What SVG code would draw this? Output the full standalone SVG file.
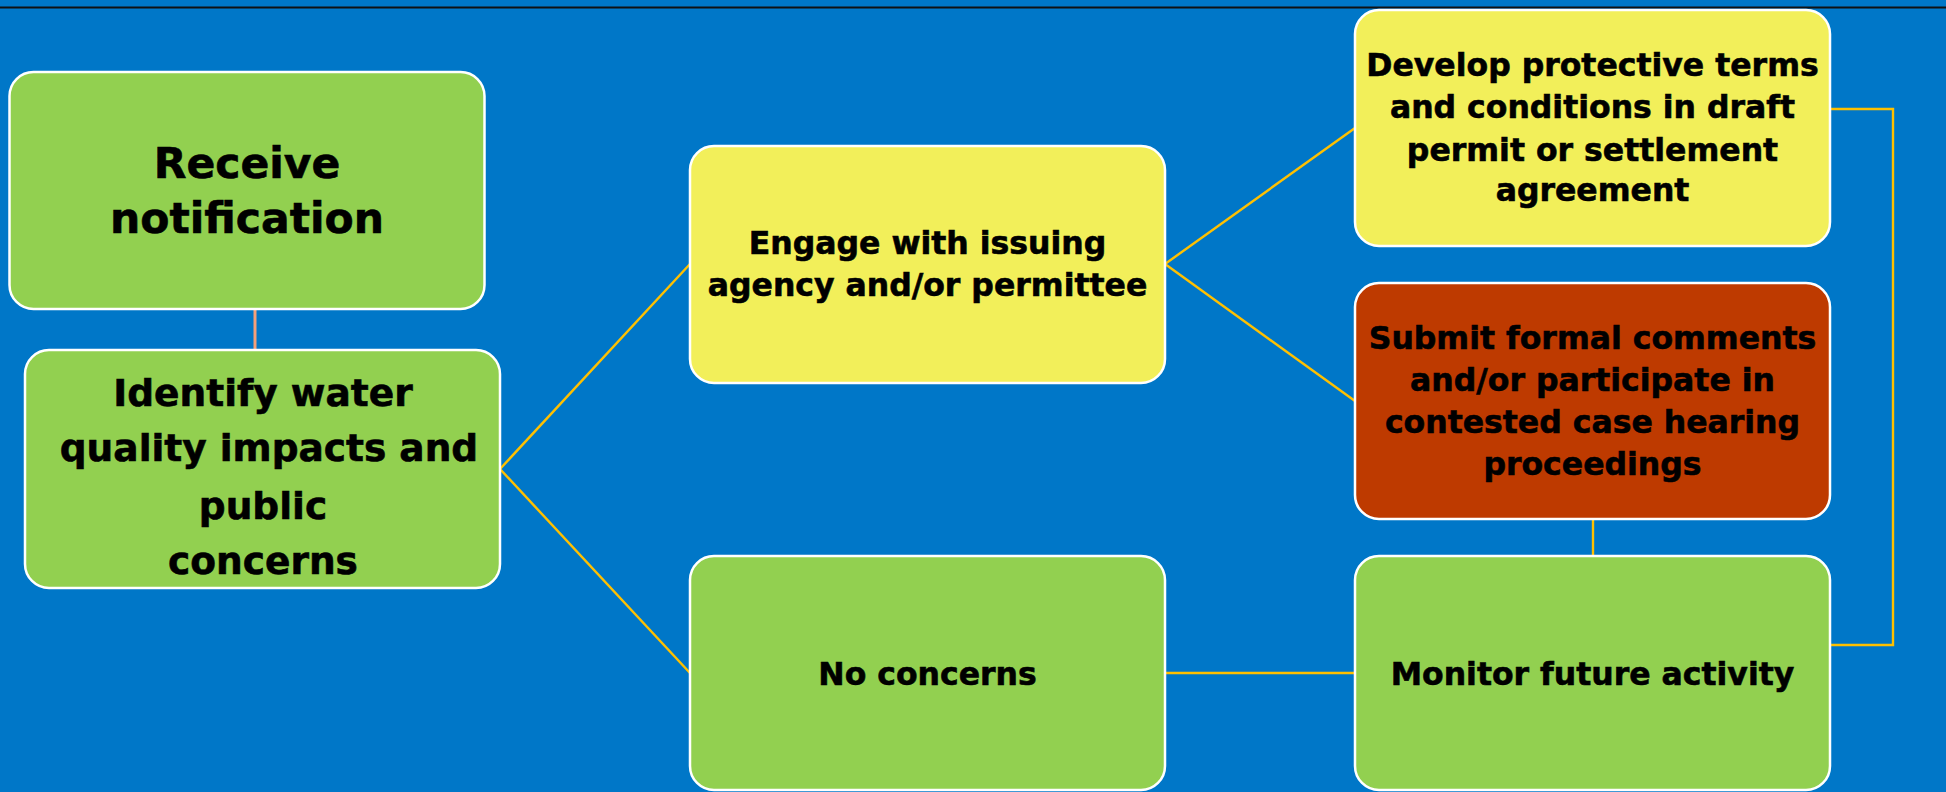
<svg xmlns="http://www.w3.org/2000/svg" width="1946" height="792" viewBox="0 0 1946 792">
<style>
.box{stroke:#ffffff;stroke-width:2.5}
.g{fill:#92D050}
.y{fill:#F2EF5A}
.r{fill:#BE3A00}
.t{font-family:"DejaVu Sans","Liberation Sans",sans-serif;font-weight:bold;fill:#000;stroke:#000;stroke-width:0.6;text-anchor:middle}
.s32{font-size:31.5px}
.s37{font-size:37.5px}
.s44{font-size:42.5px}
.c{fill:none;stroke:#FFC000;stroke-width:2.4}
</style>
<rect x="0" y="0" width="1946" height="792" fill="#0077C8"/>
<line x1="0" y1="7.5" x2="1946" y2="7.5" stroke="#111" stroke-width="1.8"/>
<g id="connectors">
<line x1="255" y1="309" x2="255" y2="350" stroke="#F4A07A" stroke-width="3"/>
<polyline class="c" points="690,264 500,469 690,673"/>
<polyline class="c" points="1355,128 1165,264 1355,401"/>
<line class="c" x1="1165" y1="673" x2="1355" y2="673"/>
<line class="c" x1="1593" y1="519" x2="1593" y2="556"/>
<polyline class="c" points="1830,109 1893,109 1893,645 1830,645"/>
</g>
<g id="receive">
<rect class="box g" x="9.5" y="72" width="475" height="237" rx="24"/>
<text class="t s44" x="247" y="178">Receive</text>
<text class="t s44" x="247" y="233">notification</text>
</g>
<g id="identify">
<rect class="box g" x="25" y="350" width="475" height="238" rx="24"/>
<text class="t s37" x="263" y="406">Identify water</text>
<text class="t s37" x="269" y="461">quality impacts and</text>
<text class="t s37" x="263" y="519">public</text>
<text class="t s37" x="263" y="574">concerns</text>
</g>
<g id="engage">
<rect class="box y" x="690" y="146" width="475" height="237" rx="24"/>
<text class="t s32" x="927.5" y="254">Engage with issuing</text>
<text class="t s32" x="927.5" y="296">agency and/or permittee</text>
</g>
<g id="noconcerns">
<rect class="box g" x="690" y="556" width="475" height="234" rx="24"/>
<text class="t s32" x="927.5" y="685">No concerns</text>
</g>
<g id="develop">
<rect class="box y" x="1355" y="10" width="475" height="236" rx="24"/>
<text class="t s32" x="1592.5" y="76">Develop protective terms</text>
<text class="t s32" x="1592.5" y="118">and conditions in draft</text>
<text class="t s32" x="1592.5" y="161">permit or settlement</text>
<text class="t s32" x="1592.5" y="201">agreement</text>
</g>
<g id="submit">
<rect class="box r" x="1355" y="283" width="475" height="236" rx="24"/>
<text class="t s32" x="1592.5" y="349">Submit formal comments</text>
<text class="t s32" x="1592.5" y="391">and/or participate in</text>
<text class="t s32" x="1592.5" y="433">contested case hearing</text>
<text class="t s32" x="1592.5" y="475">proceedings</text>
</g>
<g id="monitor">
<rect class="box g" x="1355" y="556" width="475" height="234" rx="24"/>
<text class="t s32" x="1592.5" y="685">Monitor future activity</text>
</g>
</svg>
